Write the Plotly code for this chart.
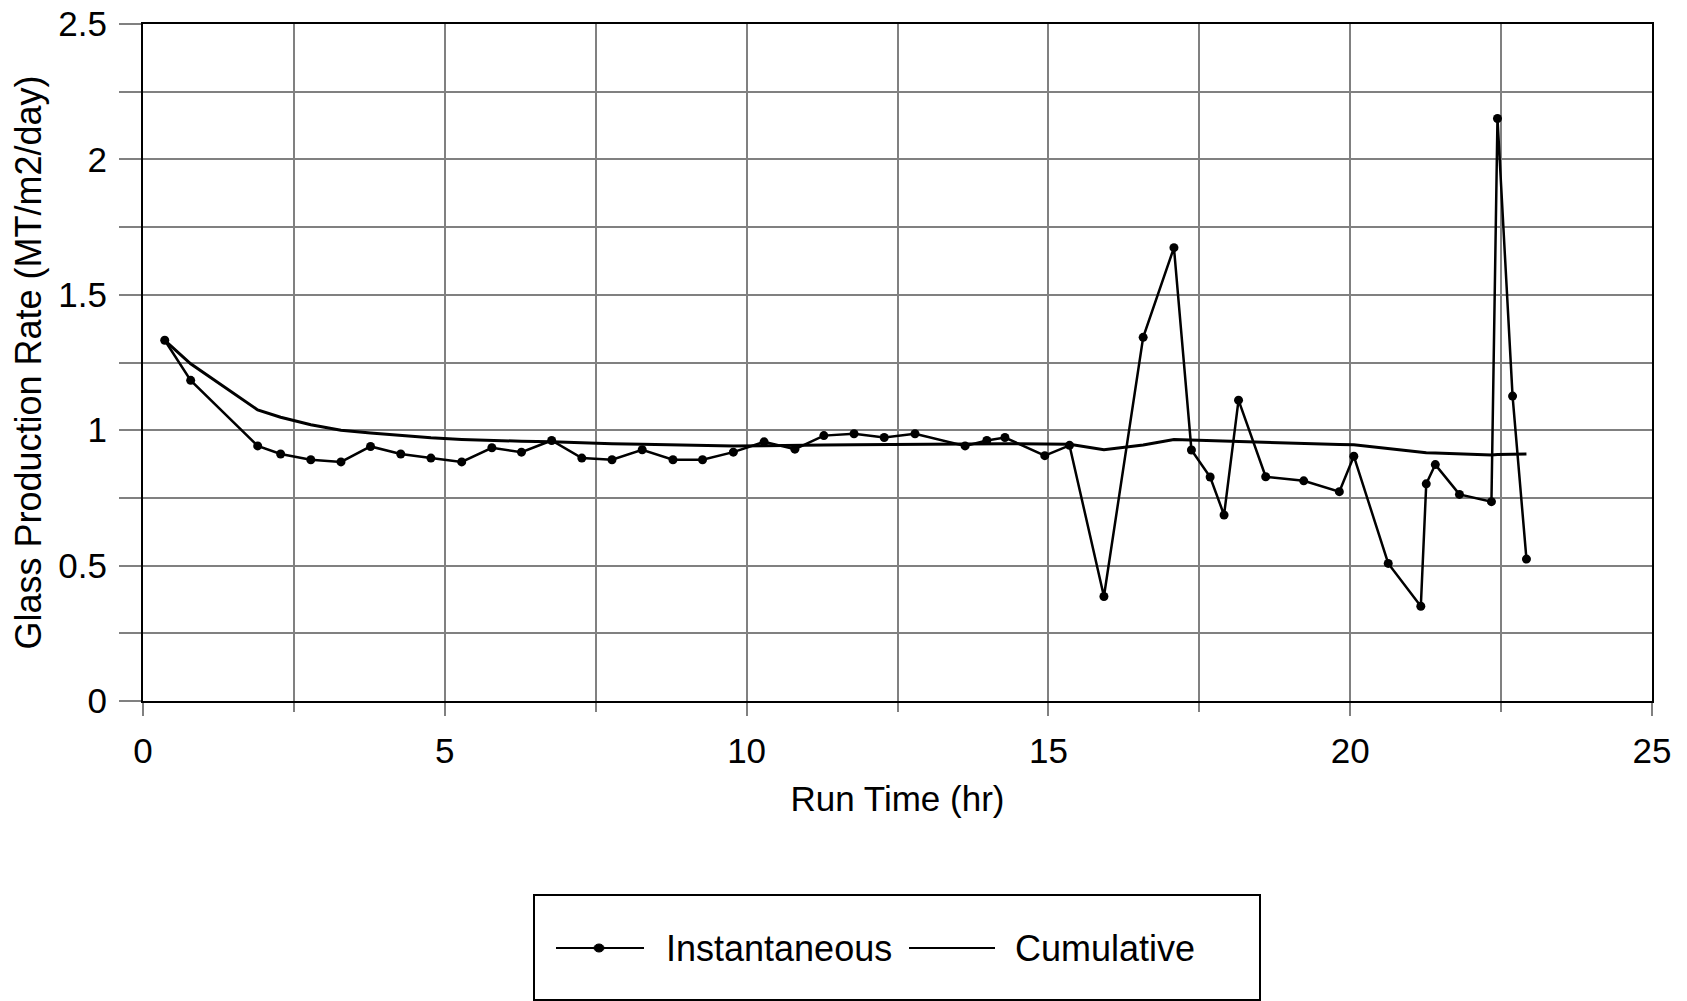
import plotly.graph_objects as go

# ---- data ----
run_time_hr = [0.36, 0.79, 1.90, 2.28, 2.78, 3.28, 3.77, 4.27, 4.77, 5.28,
               5.78, 6.27, 6.77, 7.27, 7.77, 8.27, 8.78, 9.27, 9.78, 10.29,
               10.80, 11.28, 11.78, 12.28, 12.79, 13.62, 13.98, 14.28, 14.94, 15.35,
               15.92, 16.57, 17.08, 17.37, 17.68, 17.91, 18.15, 18.60, 19.23, 19.82,
               20.06, 20.63, 21.17, 21.26, 21.41, 21.81, 22.34, 22.44, 22.69, 22.92]

instantaneous = [1.332, 1.184, 0.942, 0.912, 0.891, 0.883, 0.940, 0.912, 0.897, 0.883,
                 0.935, 0.919, 0.962, 0.897, 0.891, 0.928, 0.891, 0.891, 0.919, 0.957,
                 0.930, 0.980, 0.987, 0.973, 0.987, 0.942, 0.962, 0.973, 0.906, 0.944,
                 0.386, 1.343, 1.674, 0.927, 0.827, 0.687, 1.111, 0.828, 0.813, 0.773,
                 0.904, 0.508, 0.350, 0.802, 0.873, 0.763, 0.736, 2.151, 1.126, 0.524]

cumulative = [1.332, 1.245, 1.075, 1.048, 1.020, 1.000, 0.990, 0.980, 0.972, 0.966,
              0.962, 0.959, 0.957, 0.953, 0.950, 0.948, 0.946, 0.943, 0.942, 0.943,
              0.943, 0.945, 0.946, 0.947, 0.948, 0.948, 0.949, 0.950, 0.949, 0.948,
              0.928, 0.945, 0.966, 0.964, 0.961, 0.958, 0.958, 0.955, 0.950, 0.947,
              0.946, 0.932, 0.918, 0.917, 0.916, 0.912, 0.908, 0.910, 0.912, 0.912]

series_names = ["Instantaneous", "Cumulative"]
x_tick_vals = [0, 5, 10, 15, 20, 25]
y_tick_vals = [0, 0.5, 1, 1.5, 2, 2.5]

# ---- layout geometry ----
W, H = 1687, 1001
L, R, T, B = 143, 35, 24, 300
PW, PH = W - L - R, H - T - B
FONT = "Liberation Sans, Arial, sans-serif"
GRID = "#808080"


def px_x(px):
    return (px - L) / PW


def px_y(py):
    return (H - B - py) / PH


fig = go.Figure()
fig.add_trace(go.Scatter(
    x=run_time_hr, y=instantaneous, name=series_names[0], mode="lines+markers",
    line=dict(color="black", width=2.5),
    marker=dict(color="black", size=9, symbol="circle"),
    showlegend=False,
))
fig.add_trace(go.Scatter(
    x=run_time_hr, y=cumulative, name=series_names[1], mode="lines",
    line=dict(color="black", width=3),
    showlegend=False,
))

fig.update_layout(
    width=W, height=H,
    margin=dict(l=L, r=R, t=T, b=B, autoexpand=False),
    paper_bgcolor="white", plot_bgcolor="white",
    font=dict(family=FONT, size=35, color="black"),
    showlegend=False,
)

fig.update_xaxes(
    range=[0, 25], tickvals=x_tick_vals, ticktext=[str(v) for v in x_tick_vals],
    showgrid=True, gridcolor=GRID, gridwidth=2,
    ticks="outside", ticklen=13, tickwidth=2, tickcolor=GRID,
    minor=dict(dtick=2.5, showgrid=True, gridcolor=GRID, gridwidth=2,
               ticks="outside", ticklen=9, tickwidth=2, tickcolor=GRID),
    showline=True, linecolor="black", linewidth=2, mirror=True,
    zeroline=False, ticklabelstandoff=5,
    tickfont=dict(size=35),
    title=dict(text="Run Time (hr)", font=dict(size=35), standoff=17),
)
fig.update_yaxes(
    range=[0, 2.5], tickvals=y_tick_vals, ticktext=["0", "0.5", "1", "1.5", "2", "2.5"],
    showgrid=True, gridcolor=GRID, gridwidth=2,
    ticks="outside", ticklen=22, tickwidth=2, tickcolor=GRID,
    minor=dict(dtick=0.25, showgrid=True, gridcolor=GRID, gridwidth=2,
               ticks="outside", ticklen=22, tickwidth=2, tickcolor=GRID),
    showline=True, linecolor="black", linewidth=2, mirror=True,
    zeroline=False, ticklabelstandoff=5,
    tickfont=dict(size=35),
    title=dict(text="Glass Production Rate (MT/m2/day)", font=dict(size=36), standoff=6),
)

# ---- legend drawn as a boxed key below the plot ----
ROW = 948
shapes = [
    dict(type="rect", xref="paper", yref="paper",
         x0=px_x(534), x1=px_x(1260), y0=px_y(1000), y1=px_y(895),
         line=dict(color="black", width=2), fillcolor="rgba(0,0,0,0)"),
    dict(type="line", xref="paper", yref="paper",
         x0=px_x(556), x1=px_x(644), y0=px_y(ROW), y1=px_y(ROW),
         line=dict(color="black", width=2)),
    dict(type="circle", xref="paper", yref="paper",
         x0=px_x(594), x1=px_x(604), y0=px_y(ROW + 4), y1=px_y(ROW - 4),
         line=dict(color="black", width=1), fillcolor="black"),
    dict(type="line", xref="paper", yref="paper",
         x0=px_x(909), x1=px_x(995), y0=px_y(ROW), y1=px_y(ROW),
         line=dict(color="black", width=2)),
]
annotations = [
    dict(xref="paper", yref="paper", x=px_x(664), y=px_y(ROW), text=series_names[0],
         showarrow=False, xanchor="left", yanchor="middle", font=dict(size=36)),
    dict(xref="paper", yref="paper", x=px_x(1013), y=px_y(ROW), text=series_names[1],
         showarrow=False, xanchor="left", yanchor="middle", font=dict(size=36)),
]
fig.update_layout(shapes=shapes, annotations=annotations)

fig.write_html("out.html")
